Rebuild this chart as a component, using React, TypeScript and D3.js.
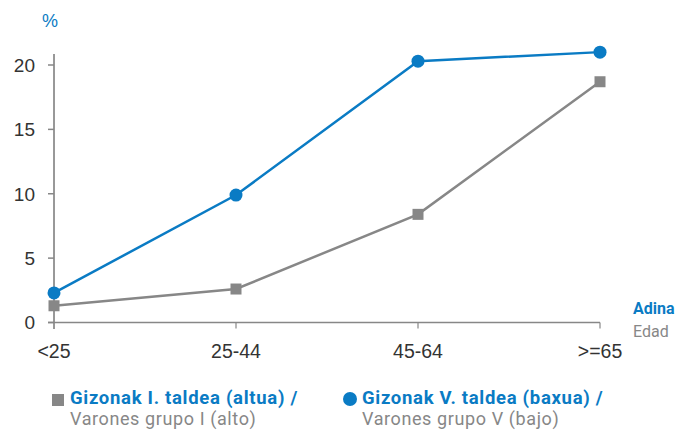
import React from "react";
import * as d3 from "d3";

const categories = ["<25", "25-44", "45-64", ">=65"];
const grupoI = [1.3, 2.6, 8.4, 18.7];
const grupoV = [2.3, 9.9, 20.3, 21.0];
const yTicks = [0, 5, 10, 15, 20];

const BLUE = "#0a7bc4";
const GRAY = "#878787";
const TXT = "#333333";
const COND = "Roboto, 'Liberation Sans Narrow', sans-serif";
const FONT = "'Liberation Sans', Arial, sans-serif";

export default function App() {
  const W = 676, H = 430;
  const x = d3.scalePoint<string>().domain(categories).range([54, 600]);
  const y = d3.scaleLinear().domain([0, 20]).range([322.5, 65]);
  const line = d3.line<number>().x((_, i) => x(categories[i])!).y((d) => y(d));

  return (
    <svg width={W} height={H} style={{ position: "absolute", left: 0, top: 0 }}>
      <text x={42} y={27} fill={BLUE} fontSize={18} fontFamily={FONT}>%</text>
      {/* y axis */}
      <line x1={54} x2={54} y1={54} y2={329} stroke={TXT} strokeWidth={1} />
      {yTicks.map((t) => (
        <g key={t}>
          <line x1={48} x2={54} y1={y(t)} y2={y(t)} stroke={GRAY} strokeWidth={1.5} />
          <text x={35} y={y(t)} dy="0.36em" textAnchor="end" fill={TXT} fontSize={19} fontFamily={FONT}>{t}</text>
        </g>
      ))}
      {/* x axis */}
      <line x1={48} x2={600} y1={y(0)} y2={y(0)} stroke={GRAY} strokeWidth={1.5} />
      {categories.map((c) => (
        <g key={c}>
          {c !== categories[0] && (
            <line x1={x(c)} x2={x(c)} y1={y(0)} y2={y(0) + 6} stroke={GRAY} strokeWidth={1.2} />
          )}
          <text x={x(c)} y={358} textAnchor="middle" fill={TXT} fontSize={19.5} fontFamily={FONT}>{c}</text>
        </g>
      ))}
      <text x={633} y={314} fill={BLUE} fontSize={16} fontWeight="bold" fontFamily={COND}>Adina</text>
      <text x={633} y={337} fill={GRAY} fontSize={16} fontFamily={COND}>Edad</text>
      {/* series */}
      <path d={line(grupoI)!} fill="none" stroke={GRAY} strokeWidth={2.5} />
      {grupoI.map((v, i) => (
        <rect key={i} x={x(categories[i])! - 5.5} y={y(v) - 5.5} width={11} height={11} fill={GRAY} />
      ))}
      <path d={line(grupoV)!} fill="none" stroke={BLUE} strokeWidth={2.5} />
      {grupoV.map((v, i) => (
        <circle key={i} cx={x(categories[i])!} cy={y(v)} r={6.5} fill={BLUE} />
      ))}
      {/* legend */}
      <rect x={52} y={394} width={12} height={12} fill={GRAY} />
      <text x={70} y={403.5} fill={BLUE} fontSize={18.5} fontWeight="bold" letterSpacing={0.7} fontFamily={COND}>Gizonak I. taldea (altua) /</text>
      <text x={70} y={425.3} fill={GRAY} fontSize={18} letterSpacing={0.6} fontFamily={COND}>Varones grupo I (alto)</text>
      <circle cx={350} cy={399} r={7} fill={BLUE} />
      <text x={362} y={403.5} fill={BLUE} fontSize={18.5} fontWeight="bold" letterSpacing={0.7} fontFamily={COND}>Gizonak V. taldea (baxua) /</text>
      <text x={362} y={425.3} fill={GRAY} fontSize={18} letterSpacing={0.6} fontFamily={COND}>Varones grupo V (bajo)</text>
    </svg>
  );
}
